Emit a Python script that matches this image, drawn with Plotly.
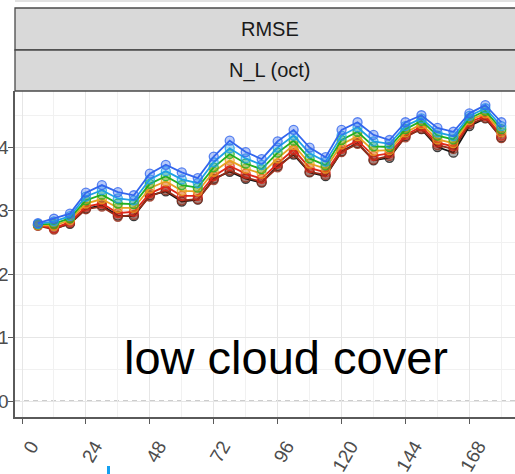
import plotly.graph_objects as go

# Forecast lead time (hours)
lead_hours = [6, 12, 18, 24, 30, 36, 42, 48, 54, 60, 66, 72, 78, 84, 90,
              96, 102, 108, 114, 120, 126, 132, 138, 144, 150, 156, 162, 168, 174, 180]

# RMSE of low cloud cover (octas), one list per experiment
rmse_black = [2.77, 2.72, 2.79, 3.03, 3.08, 2.92, 2.91, 3.24, 3.30, 3.14, 3.17, 3.50, 3.61, 3.50, 3.44,
              3.70, 3.88, 3.60, 3.54, 3.93, 4.06, 3.79, 3.83, 4.17, 4.28, 4.00, 3.91, 4.33, 4.45, 4.15]
rmse_brown = [2.76, 2.70, 2.80, 3.02, 3.06, 2.90, 2.93, 3.22, 3.32, 3.16, 3.18, 3.48, 3.63, 3.52, 3.45,
              3.68, 3.90, 3.61, 3.56, 3.92, 4.05, 3.80, 3.86, 4.15, 4.29, 4.03, 3.97, 4.36, 4.46, 4.14]
rmse_red = [2.77, 2.72, 2.82, 3.06, 3.11, 2.96, 2.98, 3.27, 3.38, 3.23, 3.23, 3.54, 3.70, 3.58, 3.50,
            3.74, 3.96, 3.67, 3.60, 3.97, 4.10, 3.86, 3.90, 4.19, 4.32, 4.07, 4.01, 4.39, 4.49, 4.18]
rmse_orange = [2.77, 2.76, 2.85, 3.11, 3.18, 3.04, 3.04, 3.35, 3.46, 3.31, 3.30, 3.61, 3.79, 3.66, 3.58,
               3.82, 4.03, 3.74, 3.66, 4.04, 4.17, 3.94, 3.95, 4.23, 4.36, 4.12, 4.06, 4.42, 4.53, 4.23]
rmse_green = [2.78, 2.79, 2.88, 3.16, 3.25, 3.11, 3.10, 3.42, 3.54, 3.40, 3.36, 3.68, 3.89, 3.74, 3.65,
              3.91, 4.10, 3.82, 3.71, 4.11, 4.24, 4.01, 4.00, 4.28, 4.41, 4.18, 4.12, 4.45, 4.57, 4.28]
rmse_cyan = [2.79, 2.83, 2.91, 3.22, 3.32, 3.19, 3.16, 3.49, 3.62, 3.49, 3.43, 3.76, 3.98, 3.82, 3.72,
             3.99, 4.18, 3.90, 3.77, 4.18, 4.31, 4.09, 4.05, 4.33, 4.45, 4.23, 4.17, 4.49, 4.61, 4.33]
rmse_blue = [2.80, 2.87, 2.95, 3.28, 3.40, 3.29, 3.24, 3.58, 3.72, 3.60, 3.51, 3.85, 4.10, 3.92, 3.81,
             4.09, 4.27, 3.99, 3.84, 4.27, 4.39, 4.19, 4.11, 4.39, 4.50, 4.30, 4.24, 4.53, 4.66, 4.39]

x_ticks = [0, 24, 48, 72, 96, 120, 144, 168]
y_ticks = [0, 1, 2, 3, 4]

series = [
    (rmse_black, (20, 20, 20)),
    (rmse_brown, (150, 45, 25)),
    (rmse_red, (222, 40, 26)),
    (rmse_orange, (232, 160, 32)),
    (rmse_green, (34, 176, 34)),
    (rmse_cyan, (31, 160, 230)),
    (rmse_blue, (51, 102, 238)),
]

W, H = 515, 474
L, R, T, B = 15, 0, 91, 57
plot_w = W - L - R
plot_h = H - T - B


def px_x(px):
    return (px - L) / plot_w


def px_y(py):
    return (H - B - py) / plot_h


fig = go.Figure()
for vals, (r, g, b) in series:
    fig.add_trace(go.Scatter(
        x=lead_hours, y=vals, mode="lines+markers",
        line=dict(color=f"rgb({r},{g},{b})", width=1.8),
        marker=dict(symbol="circle", size=9,
                    color=f"rgba({r},{g},{b},0.35)",
                    line=dict(color=f"rgba({r},{g},{b},0.8)", width=1.3)),
        showlegend=False, hoverinfo="skip",
    ))

shapes = [
    # zero reference line
    dict(type="line", xref="paper", yref="y", x0=0, x1=1, y0=0, y1=0,
         line=dict(color="#9a9a9a", width=1, dash="5px,4px"), layer="below"),
    # facet strips
    dict(type="rect", xref="paper", yref="paper", x0=0, x1=1.03,
         y0=px_y(50), y1=px_y(8), fillcolor="#d9d9d9",
         line=dict(color="#4a4a4a", width=1.3)),
    dict(type="rect", xref="paper", yref="paper", x0=0, x1=1.03,
         y0=px_y(91), y1=px_y(50), fillcolor="#d9d9d9",
         line=dict(color="#4a4a4a", width=1.3)),
    # edge of the panel above
    dict(type="line", xref="paper", yref="paper", x0=0, x1=1.03,
         y0=px_y(1), y1=px_y(1), line=dict(color="#c4c4c4", width=1.2)),
    # blue marker of the element below
    dict(type="rect", xref="paper", yref="paper", x0=px_x(107), x1=px_x(110),
         y0=px_y(474), y1=px_y(466), fillcolor="#14a0f0", line=dict(width=0)),
]

label_font = "Liberation Sans, Arial"
annotations = [
    dict(text="RMSE", xref="paper", yref="paper", x=px_x(269.5), y=px_y(29),
         xanchor="center", yanchor="middle", showarrow=False,
         font=dict(family=label_font, size=20, color="#1a1a1a")),
    dict(text="N_L (oct)", xref="paper", yref="paper", x=px_x(269.5), y=px_y(70.5),
         xanchor="center", yanchor="middle", showarrow=False,
         font=dict(family=label_font, size=20, color="#1a1a1a")),
    dict(text="low cloud cover", xref="paper", yref="paper", x=px_x(285.5), y=px_y(357),
         xanchor="center", yanchor="middle", showarrow=False,
         font=dict(family=label_font, size=47, color="#000000")),
]

x_lo = (L - 22) / 2.663
x_hi = (W - 22) / 2.663
y_lo = (401 - (H - B)) / 63.5
y_hi = (401 - T) / 63.5

fig.update_layout(
    width=W, height=H,
    margin=dict(l=L, r=R, t=T, b=B, pad=0),
    paper_bgcolor="white", plot_bgcolor="white",
    shapes=shapes, annotations=annotations,
    xaxis=dict(
        range=[x_lo, x_hi], tickmode="array", tickvals=x_ticks,
        ticktext=[str(v) for v in x_ticks], tickangle=-60, automargin=False,
        ticks="outside", ticklen=5, tickcolor="#5a5a5a", tickwidth=1.3,
        ticklabelshift=9, ticklabelstandoff=4,
        tickfont=dict(family=label_font, size=19, color="#4d4d4d"),
        showgrid=True, gridcolor="#e6e6e6", gridwidth=1,
        minor=dict(dtick=12, tick0=12, showgrid=True, gridcolor="#f1f1f1", gridwidth=0.8),
        showline=True, linecolor="#5a5a5a", linewidth=1.5, zeroline=False,
    ),
    yaxis=dict(
        range=[y_lo, y_hi], tickmode="array", tickvals=y_ticks,
        ticktext=[str(v) for v in y_ticks], automargin=False,
        ticks="outside", ticklen=5, tickcolor="#5a5a5a", tickwidth=1.3,
        ticklabelstandoff=-4,
        tickfont=dict(family=label_font, size=19, color="#4d4d4d"),
        showgrid=True, gridcolor="#e6e6e6", gridwidth=1,
        minor=dict(dtick=0.5, tick0=0.5, showgrid=True, gridcolor="#f1f1f1", gridwidth=0.8),
        showline=True, linecolor="#5a5a5a", linewidth=1.5, zeroline=False,
    ),
)

fig.write_html("out.html")
